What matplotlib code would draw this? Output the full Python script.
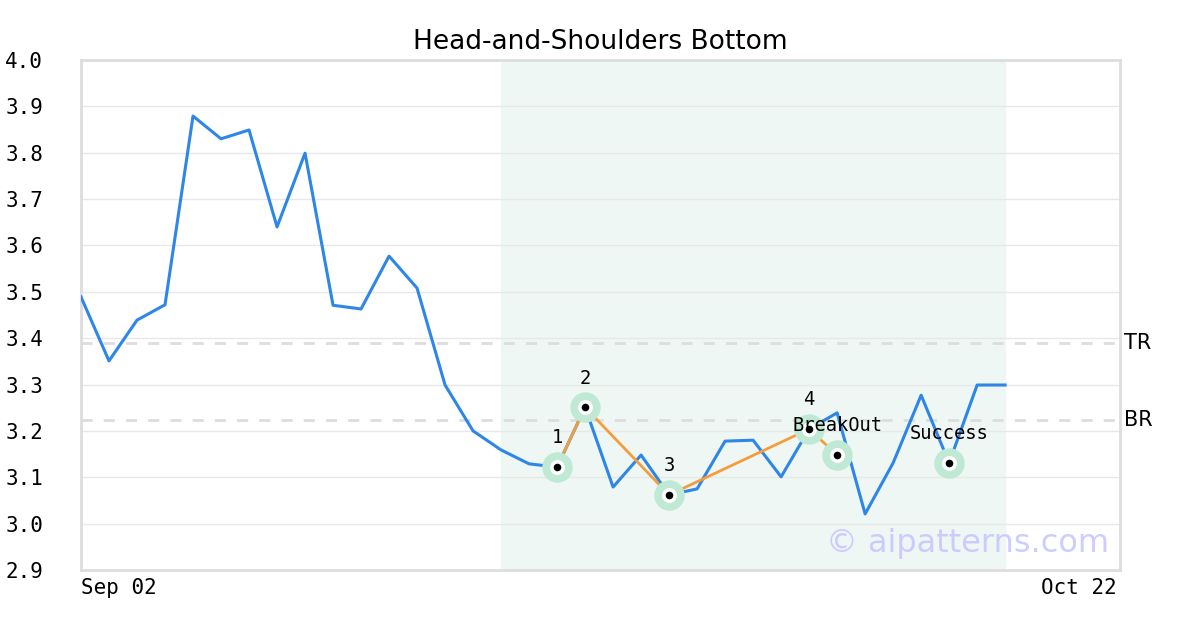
import matplotlib.pyplot as plt
import pandas as pd

# closing prices, one per trading day from Sep 02
prices = [3.489, 3.351, 3.439, 3.472, 3.879, 3.830, 3.849, 3.640, 3.799, 3.471,
          3.463, 3.577, 3.508, 3.299, 3.200, 3.159, 3.129, 3.122, 3.251, 3.079,
          3.148, 3.062, 3.075, 3.178, 3.180, 3.101, 3.204, 3.239, 3.021, 3.131,
          3.277, 3.131, 3.299, 3.299]
start_date = '2024-09-02'
end_date = '2024-10-22'

# pattern points (day index, price, label)
pattern_idx = [17, 18, 21, 26, 27]
pattern_y = [3.122, 3.251, 3.062, 3.204, 3.148]
pattern_labels = ['1', '2', '3', '4', 'BreakOut']
success_idx = 31
success_y = 3.131
success_label = 'Success'

pattern_span = (15, 33)
top_resistance = 3.390
bottom_resistance = 3.223

days = pd.bdate_range(start_date, end_date)
x = list(range(len(prices)))
last = len(days)

fig = plt.figure(figsize=(12, 6.3), dpi=100)
ax = fig.add_axes([0.0675, 0.0952, 0.8658, 0.8096])

ax.axvspan(pattern_span[0], pattern_span[1], color='#eef7f3', zorder=0)
for lvl in [3.0, 3.1, 3.2, 3.3, 3.4, 3.5, 3.6, 3.7, 3.8, 3.9]:
    ax.axhline(lvl, color='#e8e8e8', lw=1, zorder=1)

ax.axhline(top_resistance, color='#dddddd', lw=2, ls=(0, (4, 4)), zorder=2)
ax.axhline(bottom_resistance, color='#dddddd', lw=2, ls=(0, (4, 4)), zorder=2)

ax.plot(x, prices, color='#2e86e8', lw=2.2, zorder=3)
ax.plot(pattern_idx, pattern_y, color='#f59d3d', lw=2.0, zorder=4)

mx = pattern_idx + [success_idx]
my = pattern_y + [success_y]
mlab = pattern_labels + [success_label]
ax.scatter(mx, my, s=480, color='#bfe9d4', zorder=5, lw=0)
ax.scatter(mx, my, s=115, color='white', zorder=6, lw=0)
ax.scatter(mx, my, s=30, color='black', zorder=7, lw=0)
for xi, yi, lab in zip(mx, my, mlab):
    ax.annotate(lab, (xi, yi), xytext=(0, 21), textcoords='offset points',
                ha='center', va='center', fontsize=13.5,
                family='DejaVu Sans Mono', zorder=8)

ax.set_xlim(0, last + 0.1)
ax.set_ylim(2.9, 4.0)
ax.set_yticks([2.9, 3.0, 3.1, 3.2, 3.3, 3.4, 3.5, 3.6, 3.7, 3.8, 3.9, 4.0])
ax.set_yticklabels([f'{v:.1f}' for v in ax.get_yticks()],
                   family='DejaVu Sans Mono', fontsize=15)
ax.set_xticks([0, last])
ax.set_xticklabels([days[0].strftime('%b %d'), days[-1].strftime('%b %d')],
                   family='DejaVu Sans Mono', fontsize=15)
xt = ax.get_xticklabels()
xt[0].set_ha('left')
xt[1].set_ha('right')
ax.tick_params(length=0, pad=6)
ax.tick_params(axis='y', pad=54.5)
for lab in ax.get_yticklabels():
    lab.set_ha('left')

for sp in ax.spines.values():
    sp.set_color('#dddddd')
    sp.set_linewidth(2)

ax.text(1.004, top_resistance, 'TR', transform=ax.get_yaxis_transform(),
        va='center', ha='left', fontsize=15)
ax.text(1.004, bottom_resistance, 'BR', transform=ax.get_yaxis_transform(),
        va='center', ha='left', fontsize=15)

ax.text(0.99, 0.052, '\u00a9 aipatterns.com', transform=ax.transAxes,
        ha='right', va='center', fontsize=23, color='#c8c8ff', alpha=0.9, zorder=9)

ax.set_title('Head-and-Shoulders Bottom', fontsize=19, pad=8)

fig.savefig('out.png', dpi=100)
